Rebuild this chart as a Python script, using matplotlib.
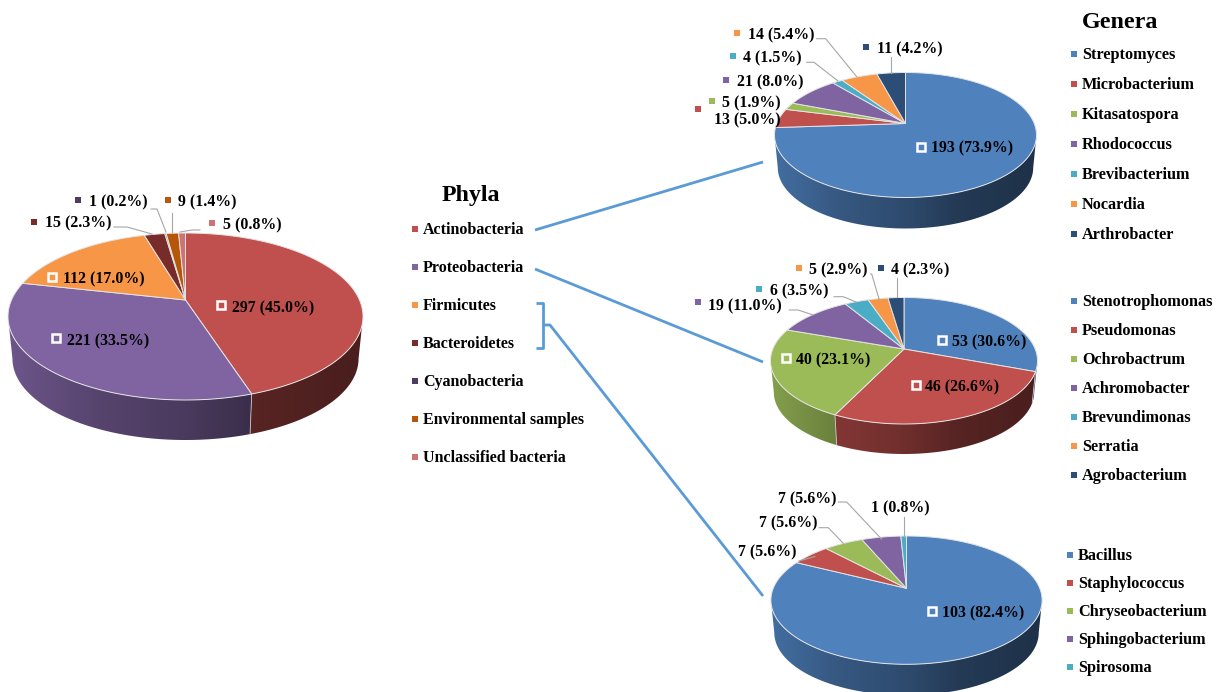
import numpy as np
import matplotlib
matplotlib.use("Agg")
import matplotlib.pyplot as plt
from matplotlib.colors import to_rgb
from matplotlib.patches import Polygon

plt.rcParams['font.family'] = ['Liberation Serif', 'DejaVu Serif']
plt.rcParams['font.weight'] = 'bold'

# Isolate counts per taxon
phyla_names = ['Actinobacteria', 'Proteobacteria', 'Firmicutes', 'Bacteroidetes',
               'Cyanobacteria', 'Environmental samples', 'Unclassified bacteria']
phyla_counts = [297, 221, 112, 15, 1, 9, 5]

actino_names = ['Streptomyces', 'Microbacterium', 'Kitasatospora', 'Rhodococcus',
                'Brevibacterium', 'Nocardia', 'Arthrobacter']
actino_counts = [193, 13, 5, 21, 4, 14, 11]

proteo_names = ['Stenotrophomonas', 'Pseudomonas', 'Ochrobactrum', 'Achromobacter',
                'Brevundimonas', 'Serratia', 'Agrobacterium']
proteo_counts = [53, 46, 40, 19, 6, 5, 4]

firmi_names = ['Bacillus', 'Staphylococcus', 'Chryseobacterium', 'Sphingobacterium', 'Spirosoma']
firmi_counts = [103, 7, 7, 7, 1]

phyla_colors = ['#C0504D', '#8064A2', '#F79646', '#772C2A', '#4D3B62', '#B65708', '#CD7371']
genus_colors = ['#4F81BD', '#C0504D', '#9BBB59', '#8064A2', '#4BACC6', '#F79646', '#2C4D75']

INK = '#000000'
LEADER = '#A6A6A6'
CONNECTOR = '#5B9BD5'

fig = plt.figure(figsize=(12.16, 6.92), dpi=100)
ax = fig.add_axes([0, 0, 1, 1])
ax.axis('off')


def wall_shade(t):
    """Brightness of the side wall, from the left (t=0) to the right (t=1) of a pie."""
    return np.interp(t, [0, .25, .5, .7, 1], [.85, .68, .58, .45, .38])


def draw_pie(counts, colors, cx, cy, rx, up, down, depth):
    """Perspective 3-D pie: slices run clockwise from twelve o'clock around the apex (cx, cy)."""
    k = (down - up) / (down + up)
    B = up * (1 + k)
    A = rx * np.sqrt(1 - k ** 2)
    ell_cy = cy + (down - up) / 2

    def rim(theta):
        u, v = np.sin(theta), -np.cos(theta)
        w = 1 - k * v
        return cx + A * u / w, cy + B * v / w

    def floor(x, y):
        shrink = .975
        return cx + (x - cx) * shrink, ell_cy + (y - ell_cy) * shrink + depth + (up + down) / 2 * (1 - shrink)

    edges = 2 * np.pi * np.concatenate([[0], np.cumsum(counts)]) / np.sum(counts)
    near_lo, near_hi = np.arccos(-k), 2 * np.pi - np.arccos(-k)

    # Side wall first, shaded left to right and clipped to the visible part of each slice
    ramp = np.linspace(0, 1, 400)
    for i, color in enumerate(colors[:len(counts)]):
        lo, hi = max(edges[i], near_lo), min(edges[i + 1], near_hi)
        if hi <= lo:
            continue
        th = np.linspace(lo, hi, 200)
        x, y = rim(th)
        xb, yb = floor(x, y)
        wall = np.vstack([np.column_stack([x, y]), np.column_stack([xb, yb])[::-1]])
        clip = Polygon(wall, closed=True, transform=ax.transData)
        gradient = np.outer(wall_shade(ramp), np.array(to_rgb(color)))[np.newaxis, :, :]
        im = ax.imshow(gradient, extent=[cx - rx, cx + rx, y.max() + depth + 4, y.min() - 4],
                       aspect='auto', interpolation='bilinear', zorder=1)
        im.set_clip_path(clip)

    for e in edges[:-1]:
        if near_lo < e < near_hi:
            x, y = rim(e)
            xb, yb = floor(x, y)
            ax.plot([x, xb], [y, yb], color='#C8C8C8', lw=.6, zorder=1.5)

    # Top face
    for i, color in enumerate(colors[:len(counts)]):
        th = np.linspace(edges[i], edges[i + 1], 160)
        x, y = rim(th)
        verts = np.vstack([[cx, cy], np.column_stack([x, y])])
        ax.add_patch(Polygon(verts, closed=True, facecolor=color, edgecolor='#E4E4E4',
                             linewidth=.7, joinstyle='round', zorder=2))


def value_labels(counts, colors, placements, boxed=()):
    """Write 'n (p%)' per slice; placements hold text x, text y, key x, key y for each slice."""
    total = sum(counts)
    for i, place in enumerate(placements):
        tx, ty, kx, ky = place
        ax.text(tx, ty + 1, f'{counts[i]} ({100 * counts[i] / total:.1f}%)', fontsize=11.4,
                ha='left', va='center', color=INK, zorder=5)
        if kx is None:
            continue
        if i in boxed:
            ax.plot(kx, ky, 's', ms=5.2, mfc=colors[i], mec='white', mew=1.8, zorder=4)
        else:
            ax.plot(kx, ky, 's', ms=3.8, mfc=colors[i], mew=0, zorder=4)


def legend(title, title_x, title_y, names, colors, text_x, ys, size):
    if title:
        ax.text(title_x, title_y + 1, title, fontsize=17.3, ha='left', va='center', color=INK)
    for name, color, y in zip(names, colors, ys):
        ax.plot(text_x - 8, y, 's', ms=3.8, mfc=color, mew=0)
        ax.text(text_x, y + 1, name, fontsize=size, ha='left', va='center', color=INK)


def leaders(paths):
    for path in paths:
        xs, ys = zip(*path)
        ax.plot(xs, ys, color=LEADER, lw=.8, zorder=3)


# Phyla overview
draw_pie(phyla_counts, phyla_colors, 185.5, 300, 177.5, 67, 100, 40)
value_labels(phyla_counts, phyla_colors,
             [(231.7, 307, 220.5, 305), (66.7, 340, 56, 338), (63, 278, 52, 277),
              (45, 222, 33.5, 222), (89, 201, 78, 199.5), (178, 201, 168, 199.5),
              (223, 224, 212, 222.7)], boxed=(0, 1, 2))
leaders([[(114, 227), (127, 227), (152, 234)],
         [(151, 209), (157, 209), (166, 232)],
         [(172, 213), (172, 232)],
         [(200, 230), (192, 230), (180, 232)]])
legend('Phyla', 442, 195, phyla_names, phyla_colors, 423, np.arange(229, 458, 38), 11.5)

# Actinobacteria genera
draw_pie(actino_counts, genus_colors, 905.5, 123.5, 131, 51, 74, 31)
value_labels(actino_counts, genus_colors,
             [(930.7, 147, 920.7, 146.7), (714, 119, 697.7, 109), (722, 102, 711.7, 101),
              (736.7, 81.7, 726, 80), (743, 57, 732.7, 56), (747.7, 34, 736.7, 33),
              (876.7, 48, 866, 46.7)], boxed=(0,))
leaders([[(816.7, 38.7), (825.7, 38.7), (856.7, 76.7)],
         [(806.7, 62.3), (814, 62.3), (838, 81)],
         [(891, 56.7), (891, 72.7)]])
legend('Genera', 1082, 22, actino_names, genus_colors, 1082, np.arange(54, 235, 30), 11.7)

# Proteobacteria genera
draw_pie(proteo_counts, genus_colors, 904, 349, 133.5, 51.5, 75, 30)
value_labels(proteo_counts, genus_colors,
             [(952.3, 341.7, 942.3, 340), (925, 386.7, 915.7, 385), (796, 359.3, 786, 357.7),
              (708.3, 305, 698.3, 302.3), (770, 290.7, 759.3, 289.3), (809.3, 269.3, 799.3, 267.7),
              (891, 269.3, 880.7, 267.7)], boxed=(0, 1, 2))
leaders([[(789.3, 310), (798, 310), (813.3, 315)],
         [(834, 296.7), (843.3, 296.7), (856.7, 302.3)],
         [(870.7, 274), (871.7, 274), (879, 299)],
         [(896.7, 278.3), (896.7, 297.3)]])
legend(None, 0, 0, proteo_names, genus_colors, 1082, np.arange(301, 476, 29), 11.7)

# Firmicutes and Bacteroidetes genera
draw_pie(firmi_counts, genus_colors, 906.5, 588.3, 135.6, 52.3, 76, 31)
value_labels(firmi_counts, genus_colors,
             [(941.7, 612.7, 931.7, 611), (738.3, 551.7, None, None), (759.3, 522.7, None, None),
              (777.7, 498.3, None, None), (870.7, 507.7, None, None)], boxed=(0,))
leaders([[(799, 561), (815, 556.5)],
         [(819.3, 527.7), (828.3, 527.7), (843.3, 543.3)],
         [(838.3, 502), (846.7, 502), (881.7, 539.3)],
         [(904, 516.7), (904, 536.7)]])
legend(None, 0, 0, firmi_names, genus_colors, 1078, np.arange(555, 668, 28), 11.7)

# Connectors from the phyla list to the genus pies
for path in ([(535, 230), (763, 162)],
             [(535, 269), (763, 362)],
             [(535.5, 303), (543, 303), (543, 348), (535.5, 348)],
             [(543, 325), (550, 325), (763, 596)]):
    xs, ys = zip(*path)
    ax.plot(xs, ys, color=CONNECTOR, lw=2, solid_joinstyle='round', solid_capstyle='butt', zorder=3)

ax.set_xlim(0, 1216)
ax.set_ylim(692, 0)

fig.savefig('out.png', dpi=100)
